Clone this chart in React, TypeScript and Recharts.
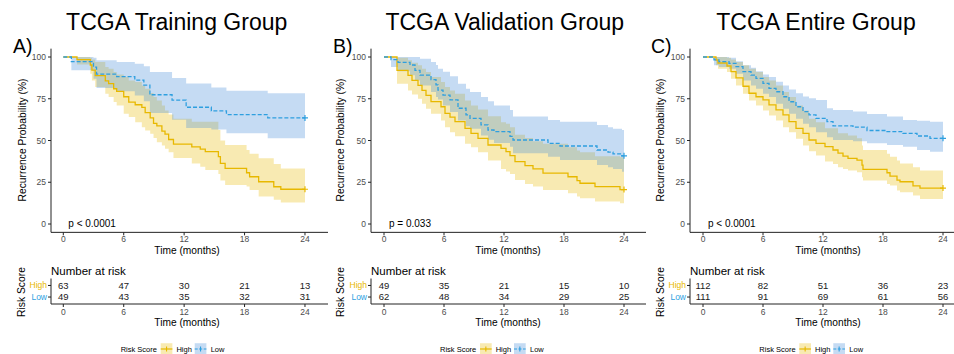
import React from 'react';
import { ComposedChart, Line, Area, XAxis, YAxis, Scatter } from 'recharts';

// [time (months), survival %, lower CI %, upper CI %]
type Row = [number, number, number, number];

const trainHigh: Row[] = [
  [0, 100, 100, 100], [1.36, 98.4, 95.5, 100], [2.68, 95.2, 90, 99.5], [2.84, 92.1, 86, 98.5],
  [3.17, 88.9, 82, 97], [4.17, 85.7, 78, 94], [4.5, 84.1, 76, 93], [5.0, 81, 73, 91],
  [5.3, 79.4, 71, 89.5], [6.0, 76.2, 66, 88], [6.5, 73, 64, 86], [7.14, 71.4, 61, 85],
  [7.8, 69.8, 58, 83], [8.13, 66.7, 56, 81], [8.63, 63.5, 54, 78.5], [8.96, 60.3, 51.5, 76],
  [9.29, 58.7, 49, 74], [9.79, 55.6, 47, 71], [10.1, 53.8, 45, 68], [10.46, 50.6, 43, 65.5],
  [10.94, 47.8, 39.5, 63], [12.76, 46.2, 36.3, 61.3], [13.6, 44.8, 34.3, 61.3], [14.1, 43.3, 32.3, 61.3],
  [15.4, 40.3, 30, 56.3], [15.6, 36.3, 26, 50], [16.07, 33.3, 23.4, 47.3], [18.2, 30.7, 22.5, 44.3],
  [18.5, 28.3, 20.4, 42], [19.4, 25.3, 16.4, 39.3], [20.9, 22.3, 14.5, 36], [21.6, 20.8, 12.8, 33.3],
  [24, 20.8, 12.8, 33.3],
];
const trainLow: Row[] = [
  [0, 100, 100, 100], [0.8, 97.2, 92, 100], [3.0, 93.9, 87, 99.5], [3.3, 89.8, 81.5, 98],
  [5.3, 88.2, 79.5, 97], [7.1, 86.2, 77, 96], [8.0, 83.2, 73.5, 94.5], [8.6, 77.4, 66.5, 91],
  [10.8, 74.2, 62.5, 87.5], [12.2, 69.9, 57.5, 84.2], [14.7, 67.7, 56.6, 81.8], [16.2, 65.5, 54.3, 79.8],
  [20.3, 63.5, 51.3, 78.3], [24, 63.5, 51.3, 78.3],
];
const valHigh: Row[] = [
  [0, 100, 100, 100], [1.3, 92, 84, 99.5], [2.4, 89, 80, 98], [2.8, 86, 77.5, 96.5],
  [3.4, 83, 75, 95], [3.8, 80, 72, 93], [4.2, 77, 69, 91], [4.7, 73.3, 66, 88],
  [5.7, 70.2, 62, 85], [6.1, 66.3, 58, 82], [6.6, 64, 55, 80], [7.1, 61.3, 52.5, 78],
  [8.1, 57.3, 48, 74], [8.7, 54.3, 46, 71], [9.4, 51.3, 43, 68.5], [10.4, 47.3, 38, 64.5],
  [11.7, 45.3, 33, 61], [12.2, 43.3, 31.5, 60], [12.6, 41, 30, 58], [13.1, 37.3, 26.3, 53.5],
  [14.1, 35, 24, 51.5], [14.9, 33, 22.4, 49.5], [15.9, 30.5, 20.4, 48], [18.4, 28.3, 18.4, 46],
  [19.3, 26, 16.5, 44], [19.6, 24.4, 15.4, 43], [21.1, 22.4, 13.4, 40.5], [23.6, 20.6, 12.4, 40],
  [24, 20.6, 12.4, 40],
];
const valLow: Row[] = [
  [0, 100, 100, 100], [0.7, 98.4, 94, 100], [1.4, 96.8, 91.5, 100], [2.6, 95.2, 89, 100],
  [3.1, 92, 86, 100], [3.6, 89.2, 83, 99], [4.7, 86.5, 79, 97], [5.2, 83.3, 76, 95.2],
  [5.4, 80.2, 74.5, 93], [5.9, 77.2, 71, 91.2], [6.6, 74.3, 67, 88.5], [7.4, 69.3, 62, 84],
  [8.2, 65.3, 58.5, 81], [8.6, 63.3, 57, 79], [9.7, 59.3, 53, 76], [10.4, 56.3, 50.5, 73.5],
  [11.0, 55.3, 48.5, 71], [12.6, 52.5, 46.3, 68.3], [12.9, 50.3, 42.3, 64.3], [16.4, 48.3, 40.3, 62.3],
  [17.6, 46.7, 38.3, 61.3], [21.3, 44.3, 35.3, 59.3], [22.4, 43, 34, 58], [22.9, 42, 33, 57],
  [23.8, 40.8, 31.3, 56.3], [24, 40.8, 31.3, 56.3],
];
const allHigh: Row[] = [
  [0, 100, 100, 100], [1.3, 98.2, 95, 100], [1.5, 96.4, 93, 100], [2.4, 94.6, 91, 99.5],
  [2.8, 91.2, 87, 98.5], [3.3, 87.5, 83, 97], [4.0, 82.5, 78, 95], [4.6, 78.3, 74, 93],
  [5.3, 76.2, 71, 91], [6.0, 74.3, 68, 88], [6.6, 71.3, 65, 86], [7.3, 68.3, 62, 83],
  [8.0, 65.3, 58, 79], [8.6, 61.3, 55, 76], [9.3, 57.3, 51, 71], [10.0, 54.3, 47, 68],
  [10.6, 50.3, 43.5, 63], [11.3, 48.3, 41, 61], [12.2, 46.3, 37.5, 57.3], [13.0, 44.3, 36, 57.3],
  [13.5, 42.5, 34, 54.3], [14.0, 40.7, 33, 54.3], [14.5, 39.3, 32, 53], [15.4, 38.3, 31, 51.3],
  [15.9, 35.3, 28, 47], [16.0, 32.7, 26, 44.3], [18.4, 30.7, 24, 42], [18.7, 28.7, 23, 40.3],
  [19.4, 26.3, 20, 38], [19.7, 25.3, 19, 36.3], [21.0, 22.8, 17, 34], [21.7, 21.5, 15, 32],
  [24, 21.5, 15, 32],
];
const allLow: Row[] = [
  [0, 100, 100, 100], [1.1, 98.3, 95, 100], [1.6, 97.2, 94, 100], [2.6, 96.2, 93, 99.5],
  [3.3, 94.2, 90, 97.5], [4.0, 91.2, 86, 95], [4.8, 89.2, 83, 93.5], [5.3, 87.2, 81, 91.5],
  [6.0, 84.2, 78, 89.5], [6.6, 81.2, 76, 88], [7.3, 79.2, 72, 85.2], [8.0, 76.2, 69, 83],
  [8.6, 73.2, 66, 80.5], [9.3, 70.2, 63, 78.3], [10.0, 67.3, 60, 76.3], [10.6, 65.3, 58, 75.3],
  [11.3, 63.3, 55, 74.3], [12.4, 61.3, 52, 69.3], [13.0, 58.8, 50.3, 68.3], [15.0, 58, 49.5, 67.3],
  [16.4, 56, 48.3, 65.9], [18.4, 55.3, 47.3, 64.3], [20.0, 54.3, 46.3, 62.3], [21.4, 52.7, 44.3, 61.9],
  [22.7, 51.3, 43.3, 61.3], [24, 51.3, 43, 61.3],
];

const riskTimes = [0, 6, 12, 18, 24];
const trainRiskHigh = [63, 47, 30, 21, 13];
const trainRiskLow = [49, 43, 35, 32, 31];
const valRiskHigh = [49, 35, 21, 15, 10];
const valRiskLow = [62, 48, 34, 29, 25];
const allRiskHigh = [112, 82, 51, 36, 23];
const allRiskLow = [111, 91, 69, 61, 56];

const xTicks = [0, 6, 12, 18, 24];
const yTicks = [0, 25, 50, 75, 100];

const YELLOW = '#E7B800';
const BLUE = '#2E9FDF';
const BLUE_FILL = '#4A90D9';
const AXIS = '#222';
const TICK_TXT = '#4D4D4D';

const panels = [
  { title: 'TCGA Training Group', letter: 'A)', p: 'p < 0.0001', high: trainHigh, low: trainLow,
    riskHigh: trainRiskHigh, riskLow: trainRiskLow,
    originX: 0, axisX: 51, zeroX: 63.3, ppm: 10.07, rightX: 328,
    titleX: 176.7, letterX: 13, yTitleX: 25.5, riskScoreX: 24.7, timeX: 187, legendX: 120.7 },
  { title: 'TCGA Validation Group', letter: 'B)', p: 'p = 0.033', high: valHigh, low: valLow,
    riskHigh: valRiskHigh, riskLow: valRiskLow,
    originX: 318, axisX: 371, zeroX: 384, ppm: 10, rightX: 646,
    titleX: 504.7, letterX: 333, yTitleX: 344, riskScoreX: 343.7, timeX: 508, legendX: 440 },
  { title: 'TCGA Entire Group', letter: 'C)', p: 'p < 0.0001', high: allHigh, low: allLow,
    riskHigh: allRiskHigh, riskLow: allRiskLow,
    originX: 636, axisX: 690, zeroX: 703, ppm: 10, rightX: 954,
    titleX: 816, letterX: 651, yTitleX: 663.5, riskScoreX: 663.7, timeX: 828, legendX: 759.3 },
];

type Panel = typeof panels[number];

const toRows = (rows: Row[]) => rows.map(([t, s, lo, hi]) => ({ t, s, band: [lo, hi] }));

const endCross = (color: string, n: number) => (props: any) => {
  const { cx, cy, index } = props;
  if (index !== n - 1 || cx == null) return <g key={`d${index}`} />;
  return (
    <path key={`d${index}`} d={`M${cx - 3},${cy}H${cx + 3}M${cx},${cy - 3}V${cy + 3}`}
      stroke={color} strokeWidth={1.2} fill="none" />
  );
};

function domainOf(cfg: Panel): [number, number] {
  return [-(cfg.zeroX - cfg.axisX) / cfg.ppm, (cfg.rightX - cfg.zeroX) / cfg.ppm];
}

function KMChart({ cfg }: { cfg: Panel }) {
  const top = 40;
  const H = 220;
  const W = cfg.rightX - cfg.originX;
  const high = toRows(cfg.high);
  const low = toRows(cfg.low);
  return (
    <div style={{ position: 'absolute', left: cfg.originX, top, width: W, height: H }}>
      <ComposedChart width={W} height={H} margin={{ top: 8.65, right: 0, bottom: 0, left: 0 }}>
        <XAxis type="number" dataKey="t" domain={domainOf(cfg)} ticks={xTicks} allowDataOverflow
          height={27.65} tickSize={3} tickMargin={1} stroke={AXIS}
          tick={{ fontSize: 8.5, fill: TICK_TXT }} interval={0} />
        <YAxis type="number" domain={[-5, 105]} ticks={yTicks} allowDataOverflow
          width={cfg.axisX - cfg.originX} tickSize={3} tickMargin={2} stroke={AXIS}
          tick={{ fontSize: 8.5, fill: TICK_TXT }} interval={0} />
        <Area data={high} dataKey="band" type="stepAfter" stroke="none" fill={YELLOW}
          fillOpacity={0.3} isAnimationActive={false} />
        <Area data={low} dataKey="band" type="stepAfter" stroke="none" fill={BLUE_FILL}
          fillOpacity={0.32} isAnimationActive={false} />
        <Line data={high} dataKey="s" type="stepAfter" stroke={YELLOW} strokeWidth={1.3}
          dot={endCross(YELLOW, high.length)} activeDot={false} isAnimationActive={false} />
        <Line data={low} dataKey="s" type="stepAfter" stroke={BLUE} strokeWidth={1.3}
          strokeDasharray="4 2" dot={endCross(BLUE, low.length)} activeDot={false}
          isAnimationActive={false} />
      </ComposedChart>
    </div>
  );
}

const RiskTick = (props: any) => {
  const { x, y, payload } = props;
  const isHigh = payload.value === 2;
  return (
    <text x={x} y={y} dy="0.355em" textAnchor="end" fontSize={8.5}
      fill={isHigh ? YELLOW : BLUE}>{isHigh ? 'High' : 'Low'}</text>
  );
};

const RiskNumber = (props: any) => {
  const { cx, cy, payload } = props;
  return (
    <text x={cx} y={cy} dy="0.355em" textAnchor="middle" fontSize={9.5} fill="#1a1a1a">
      {payload.n}
    </text>
  );
};

function RiskTable({ cfg }: { cfg: Panel }) {
  const top = 262;
  const H = 62;
  const W = cfg.rightX - cfg.originX;
  const data = [
    ...riskTimes.map((t, i) => ({ t, row: 2, n: cfg.riskHigh[i] })),
    ...riskTimes.map((t, i) => ({ t, row: 1, n: cfg.riskLow[i] })),
  ];
  return (
    <div style={{ position: 'absolute', left: cfg.originX, top, width: W, height: H }}>
      <ComposedChart width={W} height={H} margin={{ top: 16.5, right: 0, bottom: 0, left: 0 }}>
        <XAxis type="number" dataKey="t" domain={domainOf(cfg)} ticks={xTicks} allowDataOverflow
          height={20} tickSize={3} tickMargin={1.5} stroke={AXIS}
          tick={{ fontSize: 8.5, fill: TICK_TXT }} interval={0} />
        <YAxis type="number" dataKey="row" domain={[0.4, 2.6]} ticks={[1, 2]} allowDataOverflow
          width={cfg.axisX - cfg.originX} tickSize={3} tickMargin={1} stroke={AXIS}
          tick={<RiskTick />} interval={0} />
        <Scatter data={data} dataKey="row" shape={<RiskNumber />} isAnimationActive={false} />
      </ComposedChart>
    </div>
  );
}

function LegendKey({ x, color, fill, fillOpacity, dashed }: any) {
  return (
    <g>
      <rect x={x} y={343.2} width={11.7} height={11.7} fill={fill} fillOpacity={fillOpacity} />
      <line x1={x} x2={x + 11.7} y1={349} y2={349} stroke={color} strokeWidth={1.2}
        strokeDasharray={dashed ? '3 1.5' : undefined} />
      <line x1={x + 5.85} x2={x + 5.85} y1={346.5} y2={351.5} stroke={color} strokeWidth={1.1} />
    </g>
  );
}

function Overlay() {
  return (
    <svg width={954} height={354} style={{ position: 'absolute', left: 0, top: 0, pointerEvents: 'none' }}>
      {panels.map((c) => (
        <g key={c.title}>
          <text x={c.titleX} y={30} fontSize={23} textAnchor="middle" fill="#000">{c.title}</text>
          <text x={c.letterX} y={53.3} fontSize={19.5} fill="#000">{c.letter}</text>
          <text transform={`translate(${c.yTitleX},140) rotate(-90)`} fontSize={10.3}
            textAnchor="middle" fill="#000">Recurrence Probability (%)</text>
          <text x={c.zeroX + 5} y={226.5} fontSize={10} fill="#000">{c.p}</text>
          <text x={c.timeX} y={254} fontSize={10.2} textAnchor="middle" fill="#000">Time (months)</text>
          <text x={c.axisX} y={274.5} fontSize={11.5} fill="#000">Number at risk</text>
          <text transform={`translate(${c.riskScoreX},292) rotate(-90)`} fontSize={10.3}
            textAnchor="middle" fill="#000">Risk Score</text>
          <text x={c.timeX} y={325.5} fontSize={10.2} textAnchor="middle" fill="#000">Time (months)</text>
          <text x={c.legendX} y={351.6} fontSize={7.5} fill="#000">Risk Score</text>
          <LegendKey x={c.legendX + 40} color={YELLOW} fill={YELLOW} fillOpacity={0.3} />
          <text x={c.legendX + 55.7} y={351.6} fontSize={7.5} fill="#000">High</text>
          <LegendKey x={c.legendX + 74} color={BLUE} fill={BLUE_FILL} fillOpacity={0.32} dashed />
          <text x={c.legendX + 90} y={351.6} fontSize={7.5} fill="#000">Low</text>
        </g>
      ))}
    </svg>
  );
}

export default function App() {
  return (
    <div style={{
      position: 'absolute', left: 0, top: 0, width: 954, height: 354, overflow: 'hidden',
      background: '#fff', fontFamily: '"Liberation Sans", Arial, Helvetica, sans-serif',
    }}>
      {panels.map((c) => (
        <React.Fragment key={c.title}>
          <KMChart cfg={c} />
          <RiskTable cfg={c} />
        </React.Fragment>
      ))}
      <Overlay />
    </div>
  );
}
